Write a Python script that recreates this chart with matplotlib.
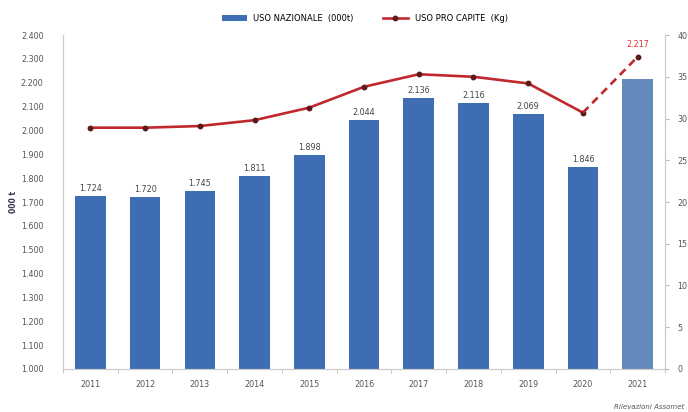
import matplotlib.pyplot as plt
from matplotlib.ticker import FuncFormatter

years = ["2011", "2012", "2013", "2014", "2015", "2016", "2017", "2018", "2019", "2020", "2021"]
uso_nazionale = [1724, 1720, 1745, 1811, 1898, 2044, 2136, 2116, 2069, 1846, 2217]
uso_pro_capite = [28.9, 28.9, 29.1, 29.8, 31.3, 33.8, 35.3, 35.0, 34.2, 30.7, 37.4]
bar_labels = ["1.724", "1.720", "1.745", "1.811", "1.898", "2.044", "2.136", "2.116", "2.069", "1.846", ""]

plt.rcParams['font.family'] = ['DejaVu Sans']

fig = plt.figure(figsize=(6.88, 4.12), dpi=100)
ax = fig.add_axes([0.0916, 0.1044, 0.875, 0.8106])
ax2 = ax.twinx()

x = list(range(len(years)))
colors = ["#3f6db3"] * (len(years) - 1) + ["#6489bd"]
bars = ax.bar(x, uso_nazionale, width=0.56, color=colors, zorder=2,
              label="USO NAZIONALE  (000t)")
for xi, v, lab in zip(x, uso_nazionale, bar_labels):
    if lab:
        ax.text(xi, v + 12, lab, ha="center", va="bottom", fontsize=5.8, color="#444444")

ax.set_ylim(1000, 2400)
ax.set_xlim(-0.5, len(years) - 0.5)
ax.set_yticks(range(1000, 2401, 100))
ax.yaxis.set_major_formatter(FuncFormatter(lambda v, p: f"{int(v):,}".replace(",", ".")))
ax.set_xticks(x)
ax.set_xticklabels(years)
ax.set_xticks([i + 0.5 for i in range(-1, len(years))], minor=True)
ax.tick_params(axis="x", which="major", length=0, labelsize=5.8, colors="#555555", pad=8)
ax.tick_params(axis="x", which="minor", length=3, color="#bbbbbb")
ax.tick_params(axis="y", length=0, labelsize=5.8, colors="#555555", pad=14)
ax.set_ylabel("000 t", fontsize=5.5, fontweight="bold", color="#333355", labelpad=2)

ax2.set_ylim(0, 40)
ax2.set_yticks(range(0, 41, 5))
ax2.tick_params(axis="y", length=3, color="#bbbbbb", labelsize=5.8, colors="#555555", pad=6)

# linea pro capite: continua fino al 2020, tratteggiata nel 2021
line, = ax2.plot(x[:-1], uso_pro_capite[:-1], color="#c0282d", lw=1.9, marker="o",
                 markersize=3.2, markerfacecolor="#5a1a1a", markeredgecolor="#5a1a1a",
                 zorder=3, label="USO PRO CAPITE  (Kg)")
ax2.plot(x[-2:], uso_pro_capite[-2:], color="#c0282d", lw=1.9, ls=(0, (3, 2)), zorder=3)
ax2.plot(x[-1], uso_pro_capite[-1], "o", markersize=3.2, color="#5a1a1a", zorder=4)
ax2.text(x[-1], uso_pro_capite[-1] + 0.9, "2.217", ha="center", va="bottom",
         fontsize=5.8, color="#e03030")

for a in (ax, ax2):
    a.spines["top"].set_visible(False)
    for s in ("left", "right", "bottom"):
        a.spines[s].set_color("#cccccc")
        a.spines[s].set_linewidth(0.8)

fig.legend(handles=[bars, line], loc="upper center", bbox_to_anchor=(0.53, 0.985),
           ncol=2, frameon=False, fontsize=6, handlelength=3, columnspacing=3.5)

fig.text(0.995, 0.005, "Rilevazioni Assomet", ha="right", va="bottom",
         fontsize=5, style="italic", color="#555555")

fig.savefig("out.png", dpi=100)
